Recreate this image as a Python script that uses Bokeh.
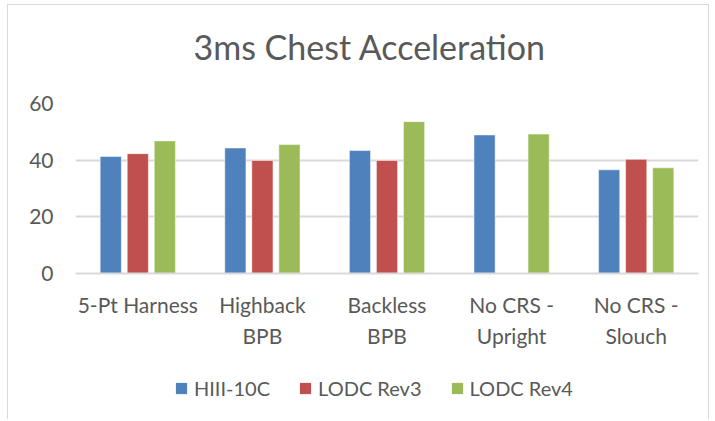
from bokeh.plotting import figure
from bokeh.layouts import column
from bokeh.models import ColumnDataSource, FactorRange, Legend, LegendItem, Range1d
from bokeh.transform import dodge
from bokeh.embed import file_html
from bokeh.resources import INLINE

categories = ["5-Pt Harness", "Highback\nBPB", "Backless\nBPB", "No CRS -\nUpright", "No CRS -\nSlouch"]
series_names = ["HIII-10C", "LODC Rev3", "LODC Rev4"]
hiii_10c = [41.3, 44.3, 43.4, 48.9, 36.6]
lodc_rev3 = [42.3, 39.9, 39.9, float("nan"), 40.3]
lodc_rev4 = [46.8, 45.5, 53.6, 49.2, 37.3]
y_ticks = [0, 20, 40, 60]
chart_title = "3ms Chest Acceleration"

colors = ["#4F81BD", "#C0504D", "#9BBB59"]
FONT = "Lato"
TXT = "#595959"
GRID = "#d9d9d9"


def strip(height):
    f = figure(width=700, height=height, output_backend="svg", toolbar_location=None,
               x_range=Range1d(0, 1), y_range=Range1d(0, 1),
               x_axis_location=None, y_axis_location=None,
               min_border_left=0, min_border_right=0, min_border_top=0, min_border_bottom=0)
    f.outline_line_color = None
    f.xgrid.grid_line_color = None
    f.ygrid.grid_line_color = None
    return f


# title strip (frames are aligned with the main plot's frame by the column layout)
tf = strip(83)
tf.title.text = chart_title
tf.title.align = "left"
tf.title.offset = 118
tf.title.text_font = FONT
tf.title.text_font_size = "34px"
tf.title.text_font_style = "normal"
tf.title.text_color = TXT
tf.title.standoff = 37

src = ColumnDataSource(data=dict(cat=categories, s0=hiii_10c, s1=lodc_rev3, s2=lodc_rev4))

p = figure(x_range=FactorRange(*categories, range_padding=0), y_range=Range1d(0, 60),
           width=700, height=277, output_backend="svg", toolbar_location=None,
           min_border_left=67, min_border_right=10, min_border_top=15, min_border_bottom=92)
p.title = None

offsets = [-0.217, 0.0, 0.217]
cols = ["s0", "s1", "s2"]
for i, col in enumerate(cols):
    p.vbar(x=dodge("cat", offsets[i], range=p.x_range), top=col, width=0.17, source=src,
           fill_color=colors[i], line_color="white", line_alpha=0.5, line_width=1)

p.xgrid.grid_line_color = None
p.ygrid.grid_line_color = GRID
p.ygrid.grid_line_width = 2
p.ygrid.ticker = y_ticks
p.yaxis.ticker = y_ticks

p.yaxis.axis_line_color = None
p.yaxis.major_tick_line_color = None
p.yaxis.minor_tick_line_color = None
p.yaxis.major_label_text_font = FONT
p.yaxis.major_label_text_font_size = "21px"
p.yaxis.major_label_text_color = TXT
p.yaxis.major_label_standoff = 16

p.xaxis.axis_line_color = GRID
p.xaxis.axis_line_width = 2
p.xaxis.major_tick_line_color = None
p.xaxis.minor_tick_line_color = None
p.xaxis.major_label_text_font = FONT
p.xaxis.major_label_text_font_size = "21px"
p.xaxis.major_label_text_color = TXT
p.xaxis.major_label_standoff = 12
p.xaxis.major_label_text_line_height = 1.25

p.outline_line_color = None

# legend strip
lf = strip(54)
items = []
for i, name in enumerate(series_names):
    # zero-height placeholder so the legend swatch has a glyph to draw
    r = lf.vbar(x=[0.5], top=[0], bottom=[0], width=0, fill_color=colors[i], line_color=None)
    items.append(LegendItem(label=name, renderers=[r]))
legend = Legend(items=items, orientation="horizontal", location=(99, 19),
                label_text_font=FONT, label_text_font_size="20px", label_text_color=TXT,
                glyph_width=14, glyph_height=14, label_standoff=6, spacing=28,
                border_line_color=None, background_fill_alpha=0, padding=0, margin=0)
lf.add_layout(legend, "center")

layout = column(tf, p, lf, spacing=0, margin=(4, 0, 0, 7),
                styles={"border": "1px solid #d9d9d9", "border-bottom": "none"})

open("out.html", "w").write(file_html(layout, INLINE))
